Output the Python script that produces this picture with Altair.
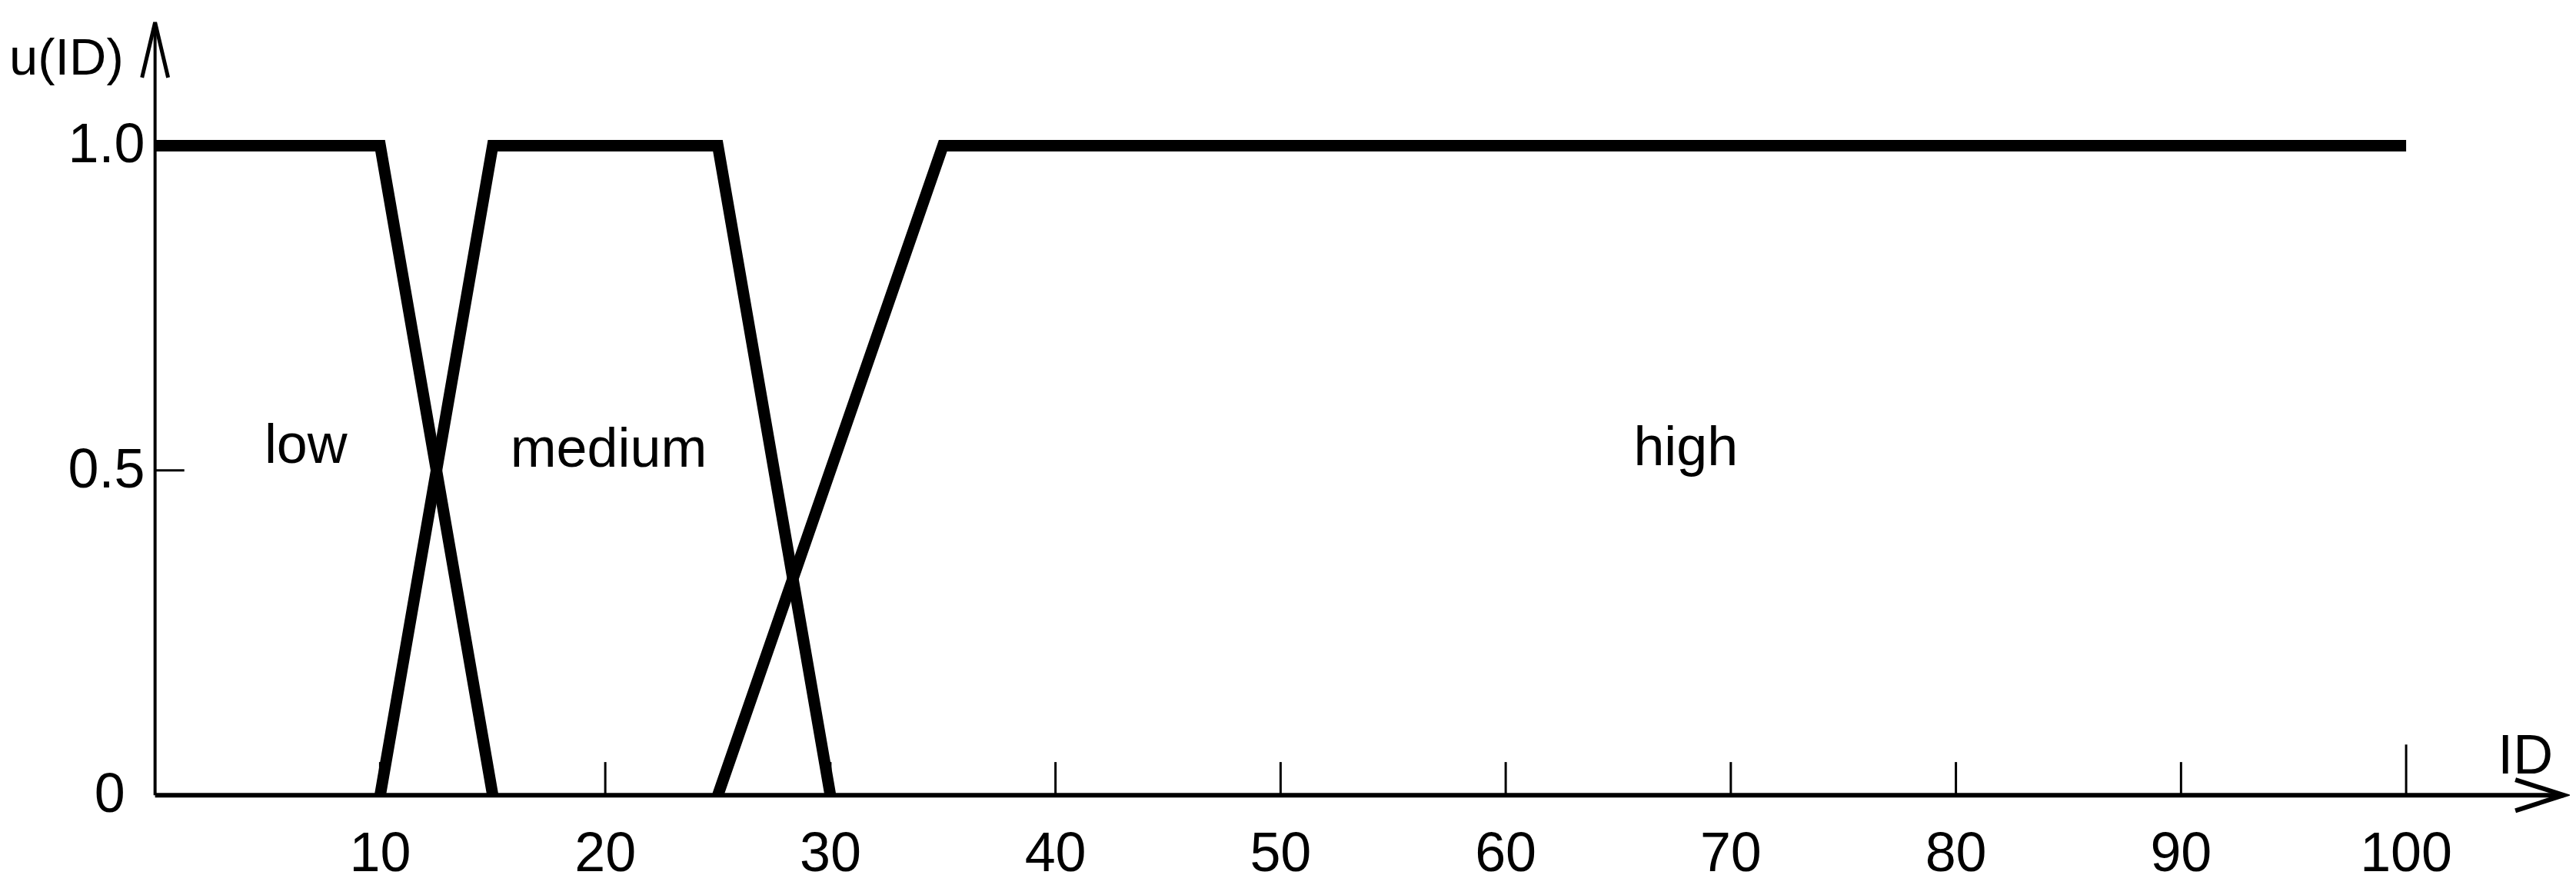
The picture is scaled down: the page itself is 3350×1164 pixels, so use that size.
import altair as alt
import pandas as pd

# membership functions u(ID)
low_x = [0, 10, 15]
low_u = [1, 1, 0]
medium_x = [10, 15, 25, 30]
medium_u = [0, 1, 1, 0]
high_x = [25, 35, 100]
high_u = [0, 1, 1]

# axis ticks / labels
x_tick_values = [10, 20, 30, 40, 50, 60, 70, 80, 90, 100]
x_tick_labels = ["10", "20", "30", "40", "50", "60", "70", "80", "90", "100"]
x_tick_tops = [0.051, 0.051, 0.051, 0.051, 0.051, 0.051, 0.051, 0.051, 0.051, 0.078]
y_tick_values = [0, 0.5, 1.0]
y_tick_labels = ["0", "0.5", "1.0"]
y_label_x = [-1.33, -0.45, -0.45]
x_label_y = -0.091
x_axis_end = 107
y_axis_end = 1.19

# term labels
term_names = ["low", "medium", "high"]
term_label_x = [6.7, 20.15, 68.0]
term_label_y = [0.512, 0.506, 0.508]

FONT = "Liberation Sans, Arial, sans-serif"
FS = 72

rows = []
for name, xs_, us_ in [("low", low_x, low_u), ("medium", medium_x, medium_u), ("high", high_x, high_u)]:
    for i, (a, b) in enumerate(zip(xs_, us_)):
        rows.append({"term": name, "x": a, "y": b, "o": i})
lines_df = pd.DataFrame(rows)

xs = alt.Scale(domain=[0, x_axis_end], nice=False, zero=False)
ys = alt.Scale(domain=[0, y_axis_end], nice=False, zero=False)


def X(f="x:Q"):
    return alt.X(f, scale=xs, axis=None)


def Y(f="y:Q"):
    return alt.Y(f, scale=ys, axis=None)


lines = alt.Chart(lines_df).mark_line(
    color="black", strokeWidth=15, strokeCap="butt", strokeJoin="miter"
).encode(x=X(), y=Y(), detail="term:N", order="o:Q")

x_axis_line = alt.Chart(pd.DataFrame({"x": [0], "x2": [x_axis_end], "y": [0]})).mark_rule(
    color="black", strokeWidth=6, strokeCap="butt"
).encode(x=X(), x2="x2:Q", y=Y())

y_axis_line = alt.Chart(pd.DataFrame({"x": [0], "y": [0], "y2": [y_axis_end]})).mark_rule(
    color="black", strokeWidth=4, strokeCap="butt"
).encode(x=X(), y=Y(), y2="y2:Q")

ticks_df = pd.DataFrame({"x": x_tick_values, "y": [0] * len(x_tick_values), "y2": x_tick_tops})
x_ticks = alt.Chart(ticks_df).mark_rule(color="black", strokeWidth=3, strokeCap="butt").encode(
    x=X(), y=Y(), y2="y2:Q")

ytick_df = pd.DataFrame({"x": [0], "x2": [1.3], "y": [0.5]})
y_tick = alt.Chart(ytick_df).mark_rule(color="black", strokeWidth=3, strokeCap="butt").encode(
    x=X(), x2="x2:Q", y=Y())

y_arrow = alt.Chart(pd.DataFrame({"x": [0], "y": [y_axis_end]})).mark_point(
    shape="M-0.236,1L0,0L0.236,1", size=20736, filled=False, stroke="black",
    strokeWidth=5, opacity=1
).encode(x=X(), y=Y())

x_arrow = alt.Chart(pd.DataFrame({"x": [x_axis_end], "y": [0]})).mark_point(
    shape="M-1,-0.32L0,0L-1,0.32", size=15876, filled=False, stroke="black",
    strokeWidth=6, opacity=1
).encode(x=X(), y=Y())

x_labels = alt.Chart(pd.DataFrame({"t": x_tick_labels, "x": x_tick_values,
                                   "y": [x_label_y] * len(x_tick_values)})).mark_text(
    font=FONT, fontSize=FS, color="black", align="center", baseline="middle"
).encode(x=X(), y=Y(), text="t:N")

y_labels = alt.Chart(pd.DataFrame({"t": y_tick_labels, "x": y_label_x, "y": y_tick_values})).mark_text(
    font=FONT, fontSize=FS, color="black", align="right", baseline="middle"
).encode(x=X(), y=Y(), text="t:N")

terms = alt.Chart(pd.DataFrame({"t": term_names, "x": term_label_x, "y": term_label_y})).mark_text(
    font=FONT, fontSize=FS, color="black", align="center", baseline="alphabetic"
).encode(x=X(), y=Y(), text="t:N")

y_title = alt.Chart(pd.DataFrame({"t": ["u(ID)"], "x": [-1.4], "y": [1.11]})).mark_text(
    font=FONT, fontSize=67, color="black", align="right", baseline="alphabetic"
).encode(x=X(), y=Y(), text="t:N")

x_title = alt.Chart(pd.DataFrame({"t": ["ID"], "x": [105.3], "y": [0.033]})).mark_text(
    font=FONT, fontSize=FS, color="black", align="center", baseline="alphabetic"
).encode(x=X(), y=Y(), text="t:N")

chart = alt.layer(
    lines, x_axis_line, y_axis_line, x_ticks, y_tick, y_arrow, x_arrow,
    x_labels, y_labels, terms, y_title, x_title
).properties(
    width=3138, height=1007,
    autosize=alt.AutoSizeParams(type="none"),
    padding={"left": 194, "top": 20, "right": 8, "bottom": 125},
    background="white",
).configure_view(strokeWidth=0)

chart.save("out.html", embed_options={"renderer": "svg", "actions": False})
